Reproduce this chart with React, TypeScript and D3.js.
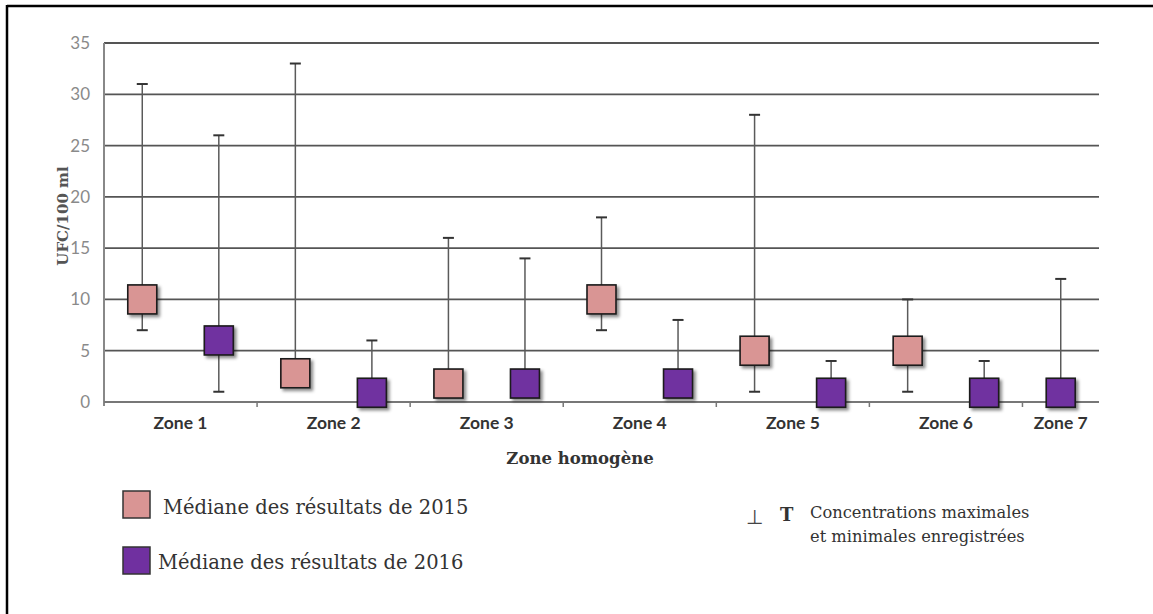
import { scaleBand, scaleLinear } from "d3";

const zones = ["Zone 1", "Zone 2", "Zone 3", "Zone 4", "Zone 5", "Zone 6", "Zone 7"];

// median, max and min readings per zone (null = no data)
const median2015 = [10, 2.8, 1.8, 10, 5, 5, null];
const max2015 = [31, 33, 16, 18, 28, 10, null];
const min2015 = [7, 2, 1, 7, 1, 1, null];

const median2016 = [6, 0.9, 1.8, 1.8, 0.9, 0.9, 0.9];
const max2016 = [26, 6, 14, 8, 4, 4, 12];
const min2016 = [1, 0, 1, 1, 0, 0, 0];

const yTicks = [0, 5, 10, 15, 20, 25, 30, 35];

const width = 1153;
const height = 614;
const margin = { top: 43, left: 104, right: 54, bottom: 212 };

const innerRight = width - margin.right;
const innerBottom = height - margin.bottom;

const colors = { y2015: "#d99594", y2016: "#7030a0" };
const boxSize = 29;
const capWidth = 11;

type Slot = { key: string; zone: number; year: string; med: number; hi: number; lo: number };

// one slot per (zone, year) that has data
const slots: Slot[] = [];
zones.forEach((z, i) => {
  if (median2015[i] != null)
    slots.push({ key: z + "-2015", zone: i, year: "y2015", med: median2015[i]!, hi: max2015[i]!, lo: min2015[i]! });
  if (median2016[i] != null)
    slots.push({ key: z + "-2016", zone: i, year: "y2016", med: median2016[i]!, hi: max2016[i]!, lo: min2016[i]! });
});

export default function App() {
  const xScale = scaleBand<string>()
    .domain(slots.map((s) => s.key))
    .range([margin.left, innerRight])
    .padding(0);

  const yScale = scaleLinear().domain([0, 35]).range([innerBottom, margin.top]);

  const bw = xScale.bandwidth();
  const cx = (k: string) => (xScale(k) ?? 0) + bw / 2;

  const zoneInfo = zones.map((z, i) => {
    const own = slots.filter((s) => s.zone === i);
    const centers = own.map((s) => cx(s.key));
    const center = centers.reduce((a, b) => a + b, 0) / centers.length;
    const end = (xScale(own[own.length - 1].key) ?? 0) + bw;
    return { z, center, end };
  });

  const sans = "Lato, 'Open Sans', sans-serif";
  const serif = "'DejaVu Serif', serif";

  return (
    <svg
      width={width}
      height={height}
      style={{ position: "absolute", left: 0, top: 0, background: "#fff" }}
    >
      <defs>
        <filter id="shadow" x="-30%" y="-30%" width="170%" height="170%">
          <feDropShadow dx="2.5" dy="2.5" stdDeviation="1.8" floodColor="#000" floodOpacity="0.45" />
        </filter>
      </defs>

      {/* frame (top and left only, picture is cropped) */}
      <line x1={7} x2={width} y1={6} y2={6} stroke="#000" strokeWidth={2.5} />
      <line x1={7} x2={7} y1={5} y2={height} stroke="#000" strokeWidth={2.5} />

      {/* gridlines */}
      {yTicks.map((t) => (
        <g key={t}>
          {t > 0 && (
            <line x1={margin.left} x2={innerRight} y1={yScale(t)} y2={yScale(t)} stroke="#555" strokeWidth={1.8} />
          )}
          <text
            x={90}
            y={yScale(t)}
            dy="0.35em"
            textAnchor="end"
            fontFamily={sans}
            fontSize={17}
            fill="#8a8a8a"
          >
            {t}
          </text>
        </g>
      ))}

      {/* axes */}
      <line x1={margin.left} x2={margin.left} y1={margin.top} y2={innerBottom + 4} stroke="#888" strokeWidth={2} />
      <line x1={margin.left} x2={innerRight} y1={innerBottom} y2={innerBottom} stroke="#777" strokeWidth={2} />
      {zoneInfo.slice(0, -1).map((d) => (
        <line key={d.z} x1={d.end} x2={d.end} y1={innerBottom} y2={innerBottom + 5} stroke="#777" strokeWidth={1.5} />
      ))}
      {zoneInfo.map((d) => (
        <text
          key={d.z}
          x={d.center}
          y={429}
          textAnchor="middle"
          fontFamily={sans}
          fontWeight="bold"
          fontSize={17.5}
          fill="#333"
        >
          {d.z}
        </text>
      ))}

      <text x={580} y={464} textAnchor="middle" fontFamily={serif} fontWeight="bold" fontSize={16.5} fill="#333">
        Zone homogène
      </text>
      <text
        transform="translate(68, 216) rotate(-90)"
        textAnchor="middle"
        fontFamily={serif}
        fontWeight="bold"
        fontSize={15}
        fill="#555"
      >
        UFC/100 ml
      </text>

      {/* whiskers */}
      {slots.map((s) => (
        <g key={s.key} stroke="#5a5a5a" strokeWidth={1.5}>
          <line x1={cx(s.key)} x2={cx(s.key)} y1={yScale(s.hi)} y2={yScale(s.lo)} />
          <line x1={cx(s.key) - capWidth / 2} x2={cx(s.key) + capWidth / 2} y1={yScale(s.hi)} y2={yScale(s.hi)} stroke="#333" strokeWidth={2} />
          <line x1={cx(s.key) - capWidth / 2} x2={cx(s.key) + capWidth / 2} y1={yScale(s.lo)} y2={yScale(s.lo)} stroke="#333" strokeWidth={2} />
        </g>
      ))}

      {/* median squares */}
      {slots.map((s) => (
        <rect
          key={s.key}
          x={cx(s.key) - boxSize / 2}
          y={yScale(s.med) - boxSize / 2}
          width={boxSize}
          height={boxSize}
          fill={colors[s.year as keyof typeof colors]}
          stroke="#1a1a1a"
          strokeWidth={1.6}
          filter="url(#shadow)"
        />
      ))}

      {/* legend */}
      <rect x={123} y={491} width={27} height={27} fill={colors.y2015} stroke="#333" strokeWidth={1.5} />
      <text x={163} y={514} fontFamily={serif} fontSize={19.5} fill="#333">
        Médiane des résultats de 2015
      </text>
      <rect x={123} y={547} width={27} height={27} fill={colors.y2016} stroke="#333" strokeWidth={1.5} />
      <text x={158} y={569} fontFamily={serif} fontSize={19.5} fill="#333">
        Médiane des résultats de 2016
      </text>

      <text x={746} y={524} fontFamily={sans} fontSize={20} fill="#444">
        ⊥
      </text>
      <text x={780} y={521} fontFamily={serif} fontWeight="bold" fontSize={18} fill="#333">
        T
      </text>
      <text x={810} y={518} fontFamily={serif} fontSize={16.3} fill="#333">
        Concentrations maximales
      </text>
      <text x={810} y={542} fontFamily={serif} fontSize={16.3} fill="#333">
        et minimales enregistrées
      </text>
    </svg>
  );
}
